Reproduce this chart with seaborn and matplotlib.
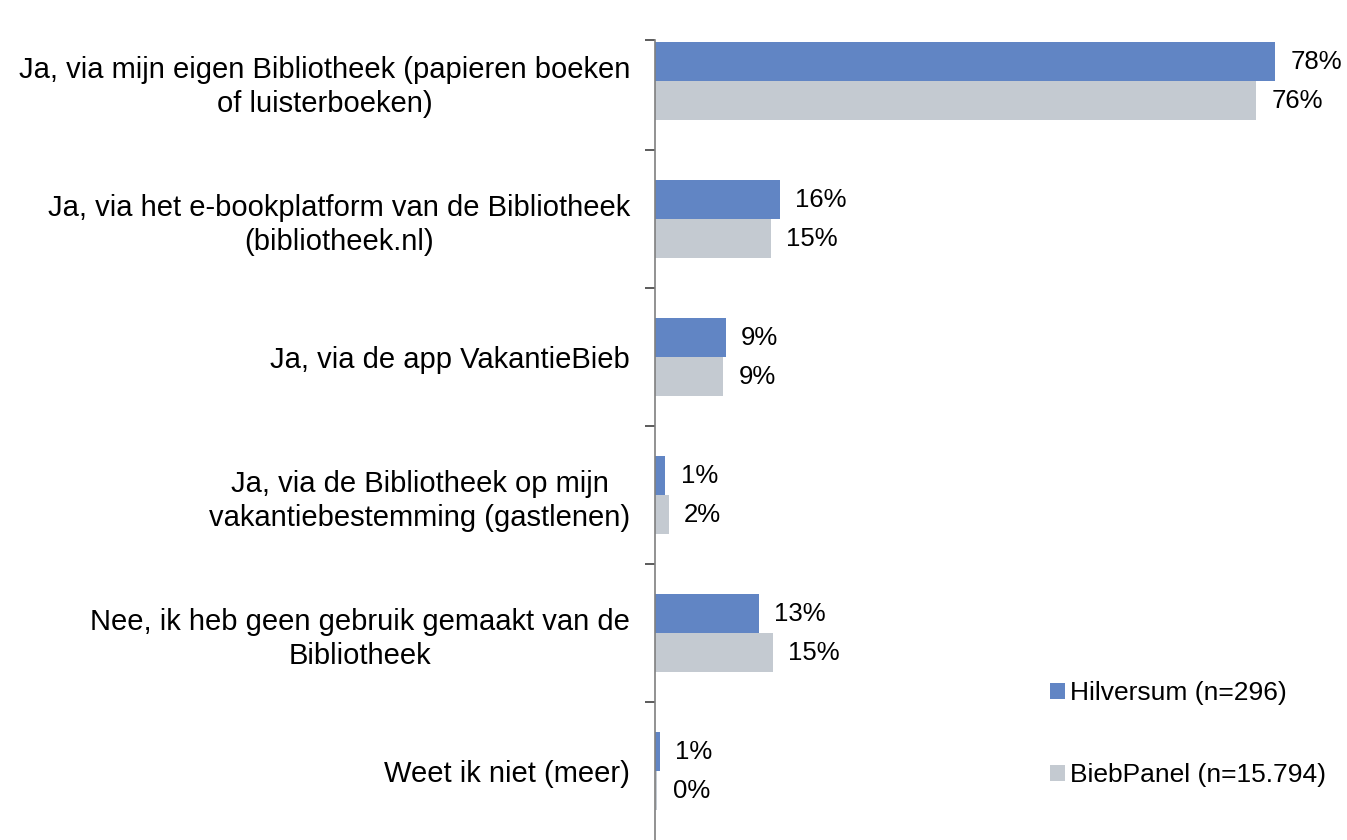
import pandas as pd
import matplotlib.pyplot as plt
import seaborn as sns

categorieen = [
    "Ja, via mijn eigen Bibliotheek (papieren boeken\nof luisterboeken)",
    "Ja, via het e-bookplatform van de Bibliotheek\n(bibliotheek.nl)",
    "Ja, via de app VakantieBieb",
    "Ja, via de Bibliotheek op mijn\nvakantiebestemming (gastlenen)",
    "Nee, ik heb geen gebruik gemaakt van de\nBibliotheek",
    "Weet ik niet (meer)",
]
hilversum = [78.0, 15.7, 8.9, 1.3, 13.1, 0.6]
biebpanel = [75.6, 14.6, 8.6, 1.7, 14.8, 0.3]
groepen = ["Hilversum (n=296)", "BiebPanel (n=15.794)"]
kleuren = ["#6185c4", "#c4cad1"]

df = pd.DataFrame({
    "categorie": categorieen * 2,
    "pct": hilversum + biebpanel,
    "groep": [groepen[0]] * len(categorieen) + [groepen[1]] * len(categorieen),
})

sns.set_style("white")
plt.rcParams["font.family"] = ["Liberation Sans", "DejaVu Sans"]
plt.rcParams["text.color"] = "black"
plt.rcParams["ytick.color"] = "black"

fig = plt.figure(figsize=(13.47, 8.4), dpi=100)
ax = fig.add_axes([0.4863, 0.0, 0.4722, 0.9524])

sns.barplot(
    data=df,
    y="categorie",
    x="pct",
    hue="groep",
    orient="h",
    palette=kleuren,
    saturation=1,
    width=0.565,
    linewidth=0,
    ax=ax,
)

for container in ax.containers:
    ax.bar_label(
        container,
        labels=[f"{w:.0f}%" for w in container.datavalues],
        padding=11,
        fontsize=18.5,
        color="black",
    )

ax.set_xlim(0, 80)
ax.set_ylim(5.5, -0.3)
ax.set_xlabel("")
ax.set_ylabel("")
ax.set_xticks([])

ax.tick_params(axis="y", which="major", left=True, length=0, pad=18, labelsize=21, labelcolor="black")
ax.set_yticks([-0.3, 0.5, 1.5, 2.5, 3.5, 4.5], minor=True)
ax.tick_params(axis="y", which="minor", left=True, length=7, width=1.2, color="#404040", direction="out")
for lbl in ax.get_yticklabels():
    lbl.set_horizontalalignment("right")
    lbl.set_multialignment("center")
    lbl.set_linespacing(1.27)

sns.despine(ax=ax, top=True, right=True, bottom=True, left=False)
ax.spines["left"].set_color("#7f7f7f")
ax.spines["left"].set_linewidth(1.2)

leg = ax.legend(
    loc="center left",
    bbox_to_anchor=(0.7795, 0.126),
    bbox_transform=fig.transFigure,
    frameon=False,
    fontsize=19,
    handlelength=0.55,
    handleheight=0.55,
    handletextpad=0.2,
    labelspacing=2.2,
    borderpad=0,
    borderaxespad=0,
)
for t in leg.get_texts():
    t.set_color("black")

fig.savefig("out.png", dpi=100)
